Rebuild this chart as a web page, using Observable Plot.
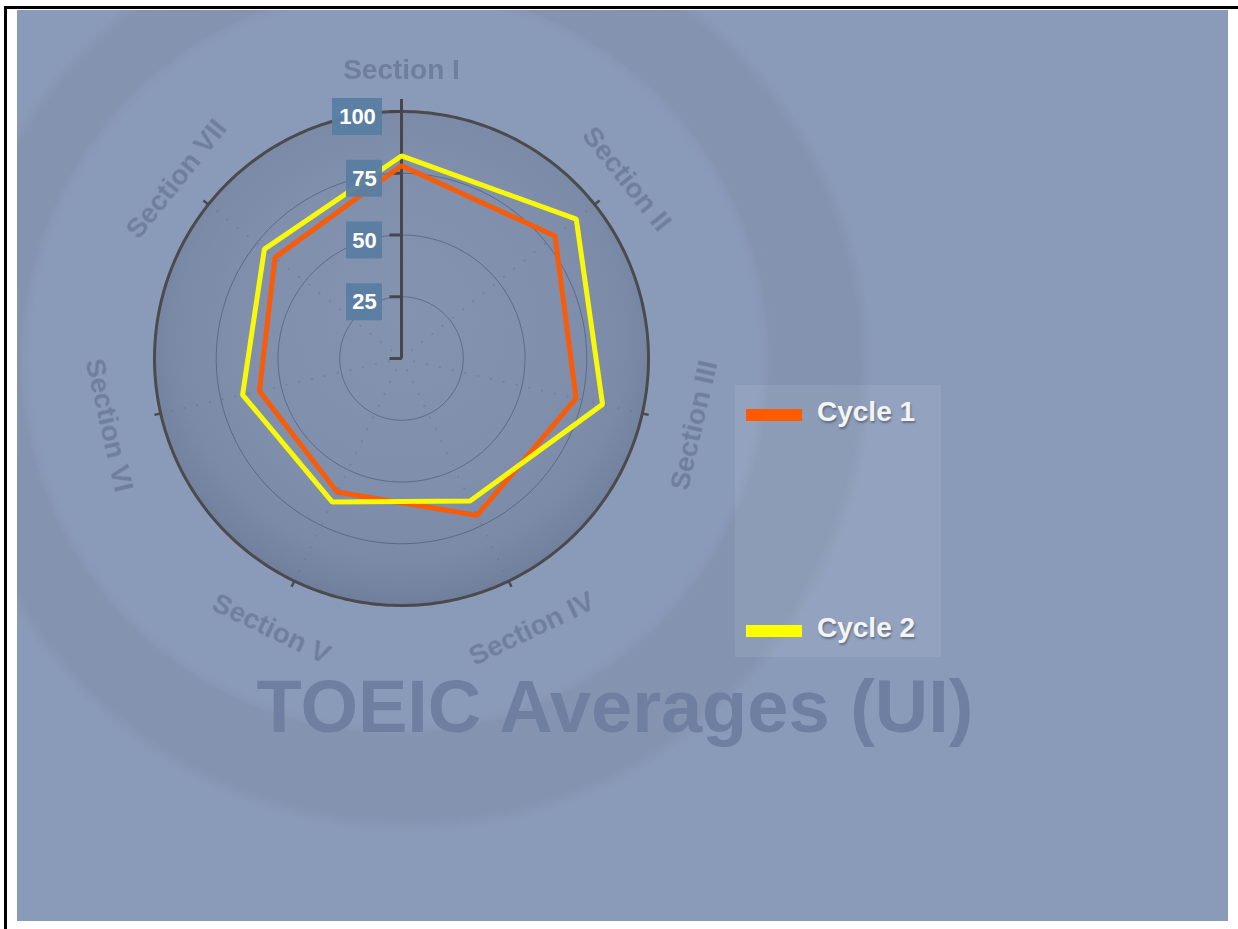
<!DOCTYPE html>
<html>
<head>
<meta charset="utf-8">
<script src="https://cdn.jsdelivr.net/npm/d3@7"></script>
<script src="https://cdn.jsdelivr.net/npm/@observablehq/plot@0.6"></script>
<style>
  html, body { margin: 0; padding: 0; background: #ffffff; width: 1238px; height: 929px; overflow: hidden; }
  body { position: relative; font-family: "Liberation Sans", Arial, Helvetica, sans-serif; }
  #topline { position: absolute; left: 4px; top: 6px; width: 1234px; height: 3px; background: #000; }
  #leftline { position: absolute; left: 4px; top: 6px; width: 3px; height: 923px; background: #000; }
  #panel {
    position: absolute; left: 17px; top: 10px; width: 1211px; height: 911px; overflow: hidden;
    background:
      radial-gradient(circle 375px at 378px 350px, #8a9bb9 0, #8a9bb9 97%, #8797b5 99%, rgba(138,155,185,0) 100%),
      radial-gradient(circle 463px at 393px 360px, #8595b2 0, #8393b0 97%, rgba(131,147,176,0) 100%),
      #8a9bb9;
  }
  #chart { position: absolute; left: 0; top: 0; }
  #title {
    position: absolute; left: 0; top: 670px; width: 1230px; text-align: center;
    font-size: 74px; line-height: 74px; font-weight: bold; color: #6f7fa0; white-space: nowrap;
    filter: blur(0.6px);
  }
  #legend {
    position: absolute; left: 735px; top: 385px; width: 206px; height: 272px;
    background: rgba(255,255,255,0.08);
  }
  .item { position: absolute; left: 0; width: 206px; height: 40px; }
  .sw { position: absolute; left: 11px; width: 56px; height: 12px; }
  .lbl {
    position: absolute; left: 82px; font-size: 28px; line-height: 28px; font-weight: bold; color: #f4f4f4;
    text-shadow: 1px 2px 2px rgba(40,50,70,0.45); white-space: nowrap;
  }
</style>
</head>
<body>
<div id="topline"></div>
<div id="leftline"></div>
<div id="panel"></div>
<div id="chart"></div>
<div id="title"></div>
<div id="legend"></div>
<script>
// ---- data ----
const sections = ["Section I", "Section II", "Section III", "Section IV", "Section V", "Section VI", "Section VII"];
const cycle1 = [78, 79.5, 72.5, 70.5, 60, 59, 65.5];
const cycle2 = [82, 90.5, 83.5, 64, 64.5, 66, 71];
const seriesNames = ["Cycle 1", "Cycle 2"];
const seriesColors = ["#ff5a00", "#ffff00"];
const tickValues = [0, 25, 50, 75, 100];
const tickLabels = ["25", "50", "75", "100"];
const gridValues = [25, 50, 75];
const maxValue = 100;
const titleText = "TOEIC Averages (UI)";

// ---- layout ----
const W = 1238, H = 929;
const CX = 401, CY = 358;   // radar centre in page pixels
const K = 2.47;             // pixels per value unit
const n = sections.length;
const ang = i => i * 2 * Math.PI / n;
const px = (i, v) => v * Math.sin(ang(i));
const py = (i, v) => v * Math.cos(ang(i));

const rows = [];
[cycle1, cycle2].forEach((vals, j) => vals.forEach((v, i) => rows.push({series: seriesNames[j], i, v})));

const ring = v => d3.range(0, 360, 1).map(a => ({ring: v, x: v * Math.sin(a * Math.PI / 180), y: v * Math.cos(a * Math.PI / 180)}));
const gridRings = gridValues.flatMap(ring);
const outerRing = ring(maxValue);

const secIdx = sections.map((s, i) => i);
const labelR = i => {
  const deg = i * 360 / n;
  const up = (deg < 90 || deg > 270) ? 1 : -1;
  return (294 - 6 * up) / K;
};
const labelRot = i => {
  const deg = i * 360 / n;
  if (deg <= 90) return deg;
  if (deg >= 270) return deg - 360;
  return deg - 180;
};
const boxW = s => 14 * s.length + 8;

const chart = Plot.plot({
  width: W, height: H,
  margin: 0,
  style: {background: "transparent", overflow: "visible"},
  x: {domain: [-CX / K, (W - CX) / K], range: [0, W], axis: null},
  y: {domain: [-(H - CY) / K, CY / K], range: [H, 0], axis: null},
  color: {domain: seriesNames, range: seriesColors},
  marks: [
    // radar disc
    Plot.line(outerRing, {x: "x", y: "y", curve: "linear-closed", fill: "url(#diskGrad)", stroke: "none"}),
    // dotted spokes
    Plot.link(secIdx, {x1: 0, y1: 0, x2: i => px(i, maxValue), y2: i => py(i, maxValue),
      stroke: "#5f6d8a", strokeOpacity: 0.4, strokeWidth: 2, strokeDasharray: "0.1 13", strokeLinecap: "round"}),
    // grid rings
    Plot.line(gridRings, {x: "x", y: "y", z: "ring", curve: "linear-closed", stroke: "#4e5a74", strokeOpacity: 0.7, strokeWidth: 1}),
    // outer ring
    Plot.line(outerRing, {x: "x", y: "y", curve: "linear-closed", stroke: "#4b4b4d", strokeWidth: 3}),
    // section tick marks
    Plot.link(secIdx.slice(1), {x1: i => px(i, maxValue), y1: i => py(i, maxValue),
      x2: i => px(i, maxValue + 2.6), y2: i => py(i, maxValue + 2.6), stroke: "#4b4b4d", strokeWidth: 2.5}),
    // value axis
    Plot.ruleX([0], {y1: 0, y2: maxValue + 4.9, stroke: "#47474a", strokeWidth: 3}),
    Plot.link(tickValues, {x1: -12 / K, x2: 0, y1: d => d, y2: d => d, stroke: "#47474a", strokeWidth: 3}),
    // series
    Plot.line(rows, {x: d => px(d.i, d.v), y: d => py(d.i, d.v), z: "series", stroke: "series",
      curve: "linear-closed", strokeWidth: 5, strokeLinejoin: "miter", strokeOpacity: 0.95}),
    // tick label boxes
    Plot.rect(tickLabels, {x1: d => -(19 + boxW(d)) / K, x2: -19 / K,
      y1: d => +d - 24 / K, y2: d => +d + 13 / K, fill: "#5a7da2", fillOpacity: 0.95}),
    Plot.text(tickLabels, {x: d => -(19 + boxW(d) / 2) / K, y: d => +d - 5.5 / K, text: d => d,
      fill: "#ffffff", fontSize: 22, fontWeight: "bold", fontFamily: "Liberation Sans, Arial, sans-serif"}),
    // section labels
    Plot.text(secIdx, {x: i => px(i, labelR(i)), y: i => py(i, labelR(i)), text: i => sections[i],
      rotate: i => labelRot(i), fill: "#6c7b99", fillOpacity: 0.9, fontSize: 28, fontWeight: "bold",
      fontFamily: "Liberation Sans, Arial, sans-serif", lineAnchor: "middle", className: "seclabel"})
  ]
});

d3.select(chart).insert("defs", ":first-child").html(`
  <radialGradient id="diskGrad" gradientUnits="objectBoundingBox" cx="0.5" cy="0.46" r="0.54" fx="0.5" fy="0.4">
    <stop offset="0" stop-color="#8393b0"/>
    <stop offset="0.6" stop-color="#7f8fac"/>
    <stop offset="0.85" stop-color="#7a8aa7"/>
    <stop offset="0.95" stop-color="#74839f"/>
    <stop offset="1" stop-color="#6f7e9a"/>
  </radialGradient>
  <filter id="soft"><feGaussianBlur stdDeviation="0.5"/></filter>`);
d3.select(chart).selectAll(".seclabel text").attr("filter", "url(#soft)");
document.getElementById("chart").appendChild(chart);

document.getElementById("title").textContent = titleText;

const legend = d3.select("#legend");
const itemTops = [24, 240];
seriesNames.forEach((s, j) => {
  const it = legend.append("div").attr("class", "item").style("top", itemTops[j] + "px");
  it.append("div").attr("class", "sw").style("top", "0px").style("background", seriesColors[j]);
  it.append("div").attr("class", "lbl").style("top", "-11px").text(s);
});
</script>
</body>
</html>
